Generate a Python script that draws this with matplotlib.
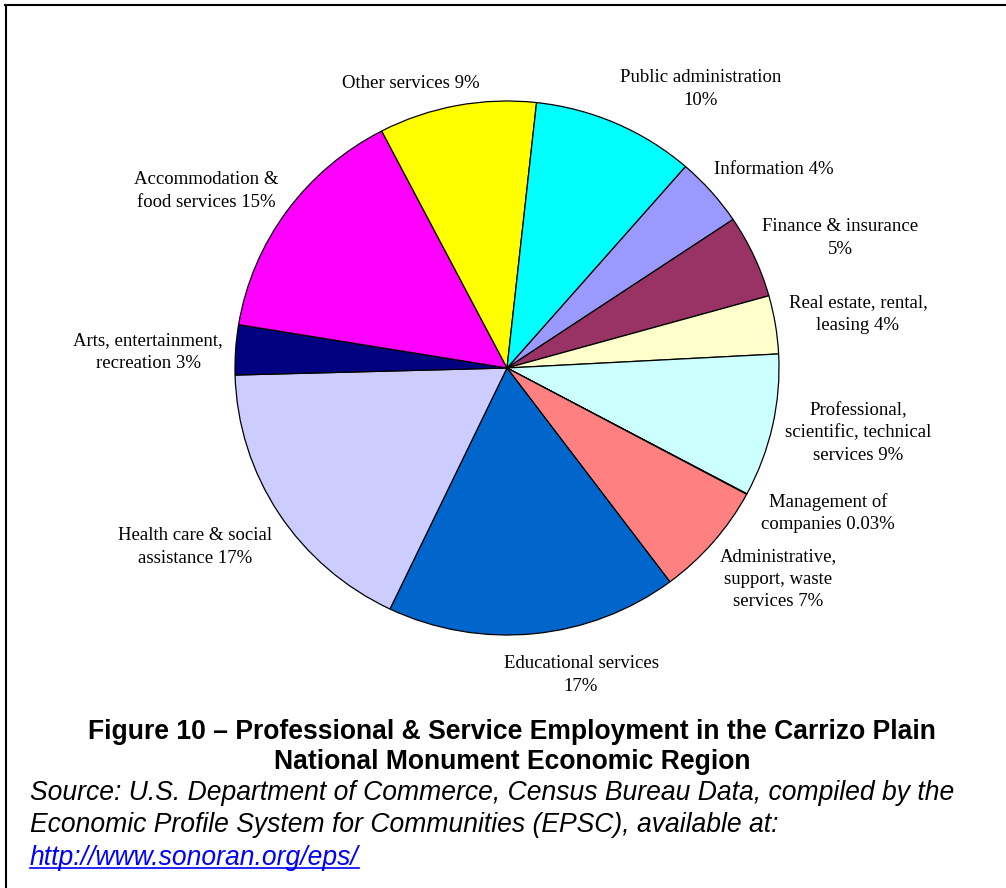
import matplotlib
matplotlib.use("Agg")
import matplotlib.pyplot as plt
from matplotlib.lines import Line2D

# Employment shares (%), clockwise from "Information"
sectors = [
    "Information",
    "Finance & insurance\n",
    "Real estate, rental,\nleasing",
    "Professional,\nscientific, technical\nservices",
    "Management of\ncompanies",
    "Administrative,\nsupport, waste\nservices",
    "Educational services\n",
    "Health care & social\nassistance",
    "Arts, entertainment,\nrecreation",
    "Accommodation &\nfood services",
    "Other services",
    "Public administration\n",
]
shares = [4.2, 5.0, 3.5, 8.6, 0.03, 6.9, 17.2, 17.4, 3.0, 14.7, 9.3, 9.6]
colors = ["#9999FF", "#993366", "#FFFFCC", "#CCFFFF", "#660066", "#FF8080",
          "#0066CC", "#CCCCFF", "#000080", "#FF00FF", "#FFFF00", "#00FFFF"]

# where each label's centre sits, in pixels from the top-left corner
label_xy = [(774, 169), (840, 238), (858, 314), (858, 433), (828, 513),
            (778, 579), (581, 675), (195, 547), (148, 352), (206, 191),
            (411, 84), (701, 89)]

caption = ["Figure 10 \u2013 Professional & Service Employment in the Carrizo Plain",
           "National Monument Economic Region"]
source = ["Source: U.S. Department of Commerce, Census Bureau Data, compiled by the",
          "Economic Profile System for Communities (EPSC), available at:"]
link = "http://www.sonoran.org/eps/"

W, H = 1006, 888
fig = plt.figure(figsize=(W / 100, H / 100), dpi=100)
fig.patch.set_facecolor("white")


def fx(x):
    return x / W


def fy(y):
    return 1 - y / H


# pie box: centre (507, 368), radii 272 x 267 px
cx, cy, rx, ry = 507, 368, 272, 267
ax = fig.add_axes([fx(cx - rx), fy(cy + ry), 2 * rx / W, 2 * ry / H])
ax.pie(shares, colors=colors, startangle=49, counterclock=False,
       wedgeprops=dict(edgecolor="black", linewidth=0.9))
ax.set_aspect("auto")
ax.set_xlim(-1, 1)
ax.set_ylim(-1, 1)
ax.axis("off")


def pct(v):
    return f"{v:.2f}%" if v < 1 else f"{v:.0f}%"


for name, v, (x, y) in zip(sectors, shares, label_xy):
    sep = "" if name.endswith("\n") else " "
    fig.text(fx(x), fy(y), name + sep + pct(v), ha="center", va="center",
             family="Liberation Serif", fontsize=13.5, linespacing=1.42,
             multialignment="center")

# caption and source note
for line, y in zip(caption, [732, 762]):
    fig.text(fx(512), fy(y), line, ha="center", va="center",
             family="Liberation Sans", fontweight="bold", fontsize=19.1)
for line, y in zip(source, [793, 825]):
    fig.text(fx(30), fy(y), line, ha="left", va="center",
             family="Liberation Sans", style="italic", fontsize=19.1)
url = fig.text(fx(30), fy(858), link, ha="left", va="center", color="#0000FF",
               family="Liberation Sans", style="italic", fontsize=19.1)

# underline the link
fig.canvas.draw()
bb = url.get_window_extent(fig.canvas.get_renderer())
uy = bb.y0 + 3
fig.add_artist(Line2D([bb.x0 / W, bb.x1 / W], [uy / H, uy / H],
                      transform=fig.transFigure, color="#0000FF", lw=1.2))

# frame edges along the top and left
fig.add_artist(Line2D([fx(5), 1], [fy(5.5), fy(5.5)], transform=fig.transFigure,
                      color="black", lw=1.5))
fig.add_artist(Line2D([fx(5.5), fx(5.5)], [0, fy(5)], transform=fig.transFigure,
                      color="black", lw=1.5))

fig.savefig("out.png", dpi=100)
